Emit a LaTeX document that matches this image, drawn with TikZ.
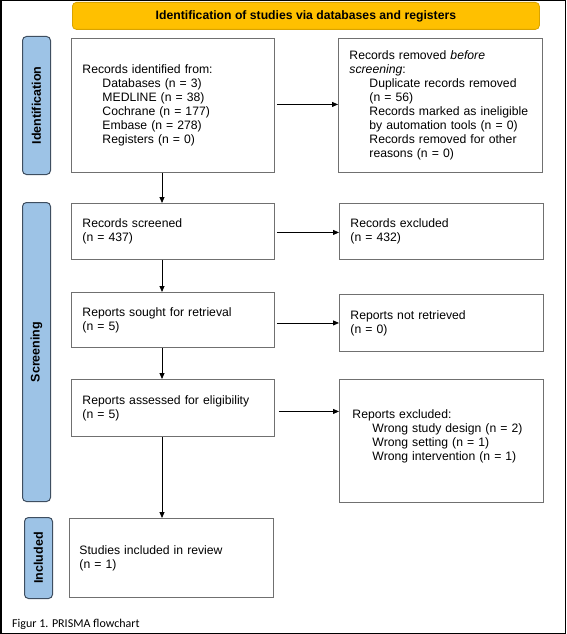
\documentclass[tikz,border=0pt]{standalone}
\usepackage{fontspec}
\setmainfont{Liberation Sans}
\newfontfamily\capfont{Carlito}
\usetikzlibrary{arrows.meta}
\definecolor{hdryellow}{HTML}{FFC000}
\definecolor{hdredge}{HTML}{D9A300}
\definecolor{sideblue}{HTML}{9DC3E6}
\definecolor{sideedge}{HTML}{3E4E60}
\definecolor{boxedge}{HTML}{707070}
\tikzset{
  every node/.style={font=\fontsize{12.2}{14}\selectfont},
  pbox/.style={draw=boxedge, line width=0.9pt, anchor=north west, inner xsep=11pt,
    inner ysep=0pt, align=left},
  hdrbox/.style={draw=hdredge, fill=hdryellow, line width=0.8pt, rounded corners=4pt,
    anchor=north west, inner sep=0pt, font=\fontsize{12.2}{14}\selectfont\bfseries},
  sidebox/.style={draw=sideedge, fill=sideblue, line width=1pt, rounded corners=4pt,
    anchor=north west, inner sep=0pt},
  sidelabel/.style={rotate=90, font=\fontsize{12.5}{14}\selectfont\bfseries},
  arr/.style={-{Triangle[length=6pt,width=5pt]}, line width=0.8pt, black},
}
\newcommand{\ind}{\hspace*{20pt}}
\begin{document}
\begin{tikzpicture}[x=1pt,y=-1pt]
\useasboundingbox (0,0) rectangle (566,634);
\draw[line width=1.5pt, black] (0.75,0.75) rectangle (565.25,633.25);

% header
\node[hdrbox, minimum width=467pt, minimum height=27pt] (hdr) at (72,2)
  {Identification of studies via databases and registers};

% side bars
\node[sidebox, minimum width=28pt, minimum height=138pt] (sideI) at (22,36) {};
\node[sidelabel] (labI) at (sideI.center) {Identification};
\node[sidebox, minimum width=28pt, minimum height=299pt] (sideS) at (22,202) {};
\node[sidelabel] (labS) at (sideS.center) {Screening};
\node[sidebox, minimum width=28pt, minimum height=81pt] (sideInc) at (24,517) {};
\node[sidelabel] (labInc) at (sideInc.center) {Included};

% boxes
\node[pbox, minimum width=203pt, minimum height=134pt, text width=181pt] (b1) at (71,38)
  {Records identified from:\\
   \ind Databases (n = 3)\\
   \ind MEDLINE (n = 38)\\
   \ind Cochrane (n = 177)\\
   \ind Embase (n = 278)\\
   \ind Registers (n = 0)};
\node[pbox, minimum width=204pt, minimum height=134pt, text width=182pt] (b2) at (338,38)
  {Records removed \textit{before}\\
   \textit{screening}:\\
   \ind Duplicate records removed\\
   \ind (n = 56)\\
   \ind Records marked as ineligible\\
   \ind by automation tools (n = 0)\\
   \ind Records removed for other\\
   \ind reasons (n = 0)};
\node[pbox, minimum width=203pt, minimum height=56pt, text width=181pt] (b3) at (71,203)
  {Records screened\\(n = 437)};
\node[pbox, minimum width=204pt, minimum height=56pt, text width=182pt] (b4) at (339,203)
  {Records excluded\\(n = 432)};
\node[pbox, minimum width=203pt, minimum height=55pt, text width=181pt] (b5) at (71,292)
  {Reports sought for retrieval\\(n = 5)};
\node[pbox, minimum width=204pt, minimum height=57pt, text width=182pt] (b6) at (339,294)
  {Reports not retrieved\\(n = 0)};
\node[pbox, minimum width=203pt, minimum height=57pt, text width=181pt] (b7) at (71,379)
  {Reports assessed for eligibility\\(n = 5)};
\node[pbox, minimum width=204pt, minimum height=123pt, text width=178pt, inner xsep=13pt] (b8) at (339,379)
  {Reports excluded:\\
   \ind Wrong study design (n = 2)\\
   \ind Wrong setting (n = 1)\\
   \ind Wrong intervention (n = 1)\rule[-12pt]{0pt}{12pt}};
\node[pbox, minimum width=204pt, minimum height=79pt, text width=184pt, inner xsep=10pt] (b9) at (69,518)
  {Studies included in review\\(n = 1)};

% arrows
\draw[arr] ([xshift=2pt,yshift=1pt]b1.east) -- ([yshift=1pt]b2.west |- b1.east);
\draw[arr] ([xshift=2pt,yshift=-1pt]b3.east) -- ([yshift=-1pt]b4.west |- b3.east);
\draw[arr] ([xshift=2pt]b5.east |- b6.west) -- (b6.west);
\draw[arr] ([xshift=4pt,yshift=-3.5pt]b7.east) -- ([yshift=-3.5pt]b8.west |- b7.east);
\draw[arr] ([xshift=91pt]b1.south west) -- ([xshift=91pt]b3.north west);
\draw[arr] ([xshift=91pt]b3.south west) -- ([xshift=91pt]b5.north west);
\draw[arr] ([xshift=91pt]b5.south west) -- ([xshift=91pt]b7.north west);
\draw[arr] ([xshift=91pt]b7.south west) -- ([xshift=91pt]b7.south west |- b9.north);

% caption
\node[anchor=base west, inner sep=0pt, font=\capfont\fontsize{12}{14}\selectfont] (cap) at (12,627)
  {Figur 1. PRISMA flowchart};
\end{tikzpicture}
\end{document}
